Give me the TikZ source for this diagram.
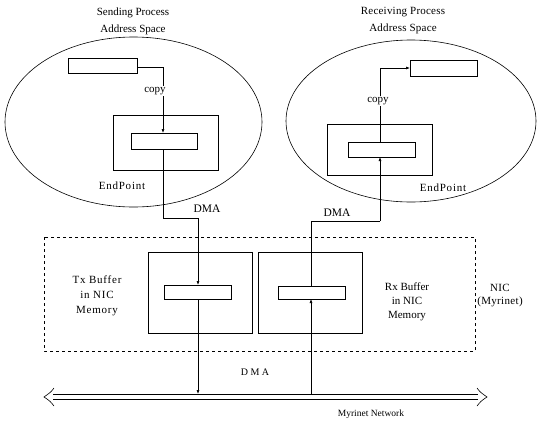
\documentclass[tikz,border=0pt]{standalone}
\usepackage{fontspec}
\setmainfont{Liberation Serif}
\usetikzlibrary{arrows.meta,shapes.geometric}
\begin{document}
\begin{tikzpicture}[x=1pt,y=-1pt,line width=0.6pt,
  lbl/.style={font=\fontsize{11}{15}\selectfont,align=center,inner sep=1pt},
  wide/.style={font=\fontsize{11}{15}\selectfont\addfontfeatures{LetterSpace=7}},
  space/.style={draw,ellipse,inner sep=0pt},
  arr/.style={-{Latex[length=4pt,width=3pt]}},
  bg/.style={fill=white}]
\useasboundingbox (0,0) rectangle (539,424);
% ellipses
\node[space,minimum width=257pt,minimum height=170pt] (sendsp) at (133.5,122) {};
\node[space,minimum width=250pt,minimum height=162pt] (recvsp) at (411,121) {};
\node[lbl,font=\fontsize{11}{17}\selectfont] (sendlbl) at (133,21) {Sending Process\\Address Space};
\node[lbl,font=\fontsize{11}{17}\selectfont\addfontfeatures{LetterSpace=2}] (recvlbl) at (403,21) {Receiving Process\\Address Space};
% sender buffers
\draw (68,58) rectangle (137,73); \coordinate (sbuf) at (137,67);
\draw (113,115) rectangle (218,170);
\draw (131,133) rectangle (197,149);
\coordinate (sinTop) at (163,133);
\coordinate (sinBot) at (163,149);
\node[lbl,wide] (sep) at (122,186) {EndPoint};
% receiver buffers
\draw (410,60) rectangle (477,76); \coordinate (rbuf) at (410,68);
\draw (327,124) rectangle (432,175);
\draw (348,142) rectangle (415,157);
\coordinate (rinTop) at (380,142);
\coordinate (rinBot) at (380,157);
\node[lbl,wide] (rep) at (443,188) {EndPoint};
% NIC
\draw[dashed] (44,237) rectangle (475,351);
\draw (148,252) rectangle (252,333);
\draw (258,252) rectangle (362,333);
\draw (164,285) rectangle (231,299);
\draw (278,286) rectangle (345,299);
\coordinate (txTop) at (198,285);
\coordinate (txBot) at (198,299);
\coordinate (rxTop) at (311,286);
\coordinate (rxBot) at (311,299);
\node[lbl,wide] (txl) at (97,296) {Tx Buffer\\in NIC\\Memory};
\node[lbl,font=\fontsize{11}{14}\selectfont] (rxl) at (407,302) {Rx Buffer\\in NIC\\Memory};
\node[lbl,font=\fontsize{11}{13}\selectfont\addfontfeatures{LetterSpace=3}] (nicl) at (500,296) {NIC\\(Myrinet)};
% network
\coordinate (netL) at (44,397);
\coordinate (netR) at (487,397);
\draw (53,394.5) -- (478,394.5);
\draw (53,399.5) -- (478,399.5);
\draw (netL) ++(10,-9) .. controls +(-3,4) .. (netL) .. controls +(6,4) .. ++(10,9);
\draw (netR) ++(-10,-9) .. controls +(3,4) .. (netR) .. controls +(-6,4) .. ++(-10,9);
\node[lbl,font=\fontsize{9.5}{11}\selectfont] (netlbl) at (371,414) {Myrinet Network};
% arrows
\draw[arr] (sbuf) -- (163,67) -- (sinTop);
\node[lbl,bg] (copy1) at (155,91) {copy};
\draw (sinBot) -- (163,218) -- (198,218);
\draw[arr] (198,218) -- (txTop);
\node[lbl,font=\fontsize{11.5}{13}\selectfont] (dma1) at (207,209) {DMA};
\draw[arr] (txBot) -- (198,394);
\node[lbl,font=\fontsize{10}{12}\selectfont\addfontfeatures{LetterSpace=25}] (dma3) at (255,372) {DMA};
\draw[arr] (311,394.5) -- (rxBot);
\draw (rxTop) -- (311,221) -- (380,221);
\draw[arr] (380,221) -- (rinBot);
\node[lbl,font=\fontsize{11.5}{13}\selectfont] (dma2) at (337,213) {DMA};
\draw[arr] (rinTop) -- (380,68) -- (rbuf);
\node[lbl,bg] (copy2) at (378,101) {copy};
\end{tikzpicture}
\end{document}
